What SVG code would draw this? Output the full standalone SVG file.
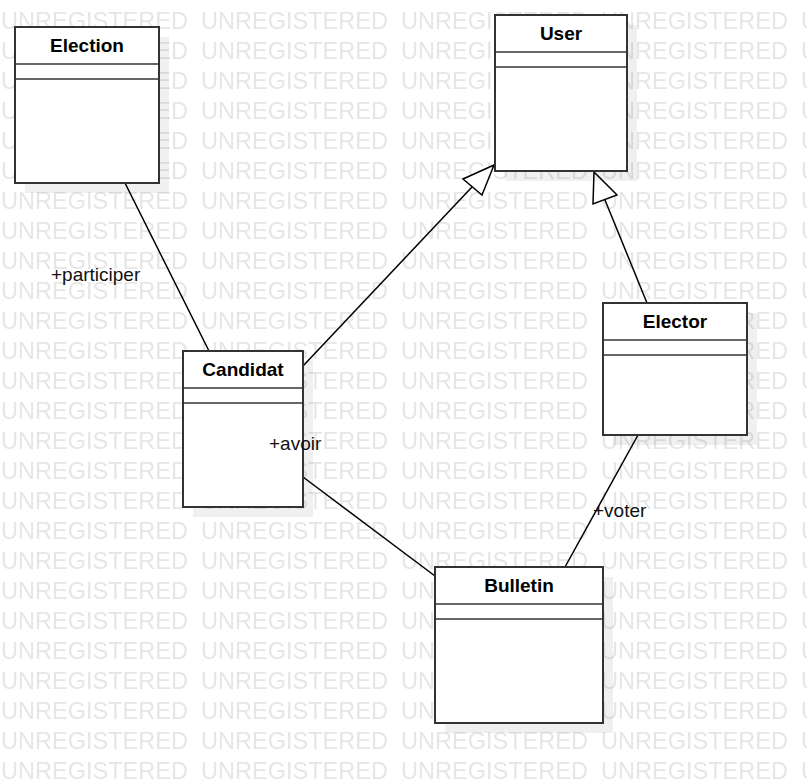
<svg xmlns="http://www.w3.org/2000/svg" width="807" height="783" viewBox="0 0 807 783">
<defs>
<pattern id="wm" patternUnits="userSpaceOnUse" x="0" y="0" width="200" height="30">
<text x="1" y="29" class="wm" textLength="187" lengthAdjust="spacingAndGlyphs">UNREGISTERED</text>
</pattern>
<style>
.wm{font-family:"Liberation Sans Narrow","Liberation Sans",Arial,sans-serif;font-size:24px;fill:#e6e6e6}
.shadow{fill:#000;fill-opacity:0.06}
.box{fill:#fff;stroke:#333;stroke-width:2}
.sep{stroke:#333;stroke-width:1.5}
.title{font-family:"Liberation Sans",Arial,sans-serif;font-size:19px;font-weight:bold;fill:#000;text-anchor:middle}
.lbl{font-family:"Liberation Sans",Arial,sans-serif;font-size:19px;fill:#111}
.con{stroke:#000;stroke-width:1.5;fill:none}
.tri{fill:#fff;stroke:#000;stroke-width:1.5}
</style>
</defs>
<rect x="0" y="0" width="807" height="783" fill="#fff"/>
<rect x="0" y="0" width="807" height="783" fill="url(#wm)"/>

<g id="connectors">
<line class="con" x1="125" y1="183" x2="209" y2="351"/>
<line class="con" x1="303" y1="366" x2="472" y2="187"/>
<polygon class="tri" points="494,165 463,179 482,195"/>
<line class="con" x1="647" y1="303" x2="605" y2="200"/>
<polygon class="tri" points="594,172 593,204 617,195"/>
<line class="con" x1="303" y1="477" x2="435" y2="576"/>
<line class="con" x1="638" y1="435" x2="565" y2="567"/>
</g>

<g id="Election">
<rect class="shadow" x="25" y="37" width="144" height="156"/>
<rect class="box" x="15" y="27" width="144" height="156"/>
<line class="sep" x1="15" y1="64" x2="159" y2="64"/>
<line class="sep" x1="15" y1="79" x2="159" y2="79"/>
<text class="title" x="87" y="52">Election</text>
</g>

<g id="User">
<rect class="shadow" x="505" y="25" width="132" height="156"/>
<rect class="box" x="495" y="15" width="132" height="156"/>
<line class="sep" x1="495" y1="52" x2="627" y2="52"/>
<line class="sep" x1="495" y1="67" x2="627" y2="67"/>
<text class="title" x="561" y="40">User</text>
</g>

<g id="Candidat">
<rect class="shadow" x="193" y="361" width="120" height="156"/>
<rect class="box" x="183" y="351" width="120" height="156"/>
<line class="sep" x1="183" y1="388" x2="303" y2="388"/>
<line class="sep" x1="183" y1="403" x2="303" y2="403"/>
<text class="title" x="243" y="376">Candidat</text>
</g>

<g id="Elector">
<rect class="shadow" x="613" y="313" width="144" height="132"/>
<rect class="box" x="603" y="303" width="144" height="132"/>
<line class="sep" x1="603" y1="340" x2="747" y2="340"/>
<line class="sep" x1="603" y1="355" x2="747" y2="355"/>
<text class="title" x="675" y="328">Elector</text>
</g>

<g id="Bulletin">
<rect class="shadow" x="445" y="577" width="168" height="156"/>
<rect class="box" x="435" y="567" width="168" height="156"/>
<line class="sep" x1="435" y1="604" x2="603" y2="604"/>
<line class="sep" x1="435" y1="619" x2="603" y2="619"/>
<text class="title" x="519" y="592">Bulletin</text>
</g>

<g id="labels">
<text class="lbl" x="51" y="281">+participer</text>
<text class="lbl" x="269" y="450">+avoir</text>
<text class="lbl" x="593" y="517">+voter</text>
</g>
</svg>
